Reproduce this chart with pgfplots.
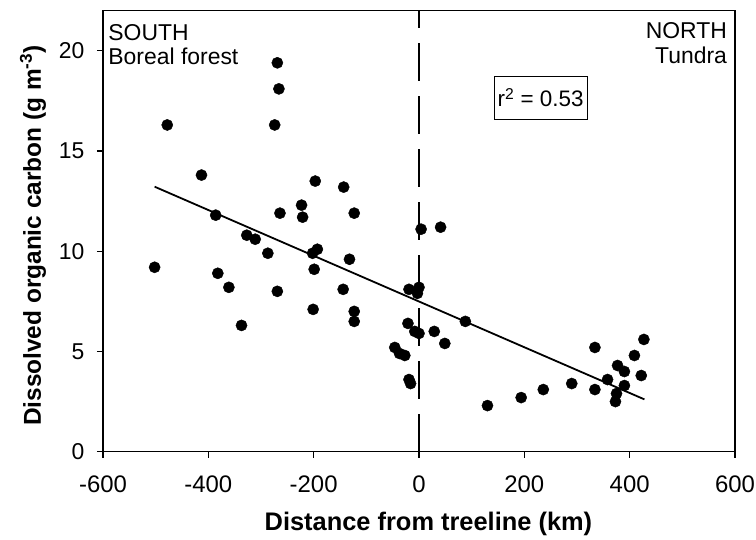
\documentclass[border=0pt]{standalone}
\usepackage{fontspec}
\setmainfont{Liberation Sans}
\usepackage{pgfplots}
\pgfplotsset{compat=1.18}
\usetikzlibrary{calc}

\begin{document}
\begin{tikzpicture}
\begin{axis}[
  scale only axis,
  width=632bp, height=441bp,
  xmin=-600, xmax=600, ymin=0, ymax=22,
  xtick={-600,-400,...,600},
  ytick={0,5,10,15,20},
  tick align=outside,
  tick pos=left,
  major tick length=6bp,
  minor tick num=0,
  axis line style={line width=1.5bp},
  major tick style={line width=1.3bp, black},
  /pgf/number format/assume math mode=true,
  xticklabel style={font=\fontsize{24}{27}\selectfont, yshift=-15bp},
  yticklabel style={font=\fontsize{23}{26}\selectfont, xshift=-9bp},
  xlabel={Distance from treeline (km)},
  ylabel={Dissolved organic carbon (g m\textsuperscript{-3})},
  every axis x label/.style={at={(axis description cs:0.515,-0.1776)}, anchor=base,
    font=\fontsize{25.5}{28}\selectfont\bfseries},
  every axis y label/.style={at={(axis description cs:-0.1108,0.49)}, anchor=center, rotate=90,
    font=\fontsize{24.5}{28}\selectfont\bfseries},
  clip=false,
]
% treeline
\addplot[black, line width=1.8bp, dash pattern=on 38bp off 15bp] coordinates {(0,0) (0,22)};
% regression line
\addplot[black, line width=1.8bp] coordinates {(-502,13.22) (428,2.61)};
% observations
\addplot[only marks, mark=*, mark size=5.6bp, black] coordinates {
  (-502,9.2) (-478,16.3) (-413,13.8) (-386,11.8) (-382,8.9) (-361,8.2)
  (-337,6.3) (-327,10.8) (-311,10.6) (-287,9.9) (-274,16.3) (-269,19.4)
  (-266,18.1) (-264,11.9) (-269,8.0) (-223,12.3) (-221,11.7) (-202,9.9)
  (-193,10.1) (-199,9.1) (-201,7.1) (-197,13.5) (-143,13.2) (-144,8.1)
  (-132,9.6) (-123,11.9) (-123,7.0) (-123,6.5) (-46,5.2) (-37,4.9)
  (-27,4.8) (-21,6.4) (-19,8.1) (-19,3.6) (-16,3.4) (-8,6.0)
  (0,5.9) (-3,7.9) (0,8.2) (4,11.1) (29,6.0) (41,11.2)
  (49,5.4) (88,6.5) (130,2.3) (194,2.7) (236,3.1) (290,3.4)
  (334,3.1) (334,5.2) (358,3.6) (373,2.5) (375,2.9) (377,4.3)
  (390,4.0) (390,3.3) (409,4.8) (422,3.8) (427,5.6)
};
\node[anchor=base west, inner sep=0pt, font=\fontsize{23}{26}\selectfont] at (axis cs:-590,20.53) {SOUTH};
\node[anchor=base west, inner sep=0pt, font=\fontsize{23}{26}\selectfont] at (axis cs:-590,19.34) {Boreal forest};
\node[anchor=base east, inner sep=0pt, font=\fontsize{23}{26}\selectfont] at (axis cs:585,20.6) {NORTH};
\node[anchor=base east, inner sep=0pt, font=\fontsize{23}{26}\selectfont] at (axis cs:585,19.37) {Tundra};
\node[draw, line width=0.9bp, minimum width=93bp, minimum height=43bp, inner sep=3bp,
      font=\fontsize{22.5}{26}\selectfont] at (axis cs:231,17.66) {r\textsuperscript{2} = 0.53};
\coordinate (bl) at (rel axis cs:0,0);
\coordinate (tr) at (rel axis cs:1,1);
\end{axis}
\pgfresetboundingbox
\path ($(bl)+(-103bp,-88.3bp)$) rectangle ($(tr)+(21bp,10.7bp)$);
\end{tikzpicture}
\end{document}
